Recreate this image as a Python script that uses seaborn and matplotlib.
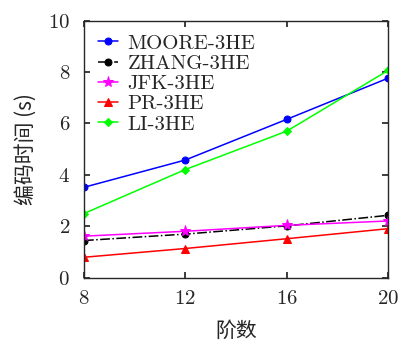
import pandas as pd
import seaborn as sns
import matplotlib.pyplot as plt

# Data
orders = [8, 12, 16, 20]
moore = [3.52, 4.58, 6.16, 7.76]
zhang = [1.45, 1.70, 2.02, 2.43]
jfk = [1.62, 1.81, 2.04, 2.21]
pr = [0.80, 1.14, 1.52, 1.91]
li = [2.50, 4.21, 5.70, 8.06]

names = ['MOORE-3HE', 'ZHANG-3HE', 'JFK-3HE', 'PR-3HE', 'LI-3HE']
series = [moore, zhang, jfk, pr, li]

df = pd.DataFrame({
    'order': orders * len(names),
    'time': sum(series, []),
    'method': [n for n in names for _ in orders],
})

sns.set_theme(style='ticks')
plt.rcParams['font.family'] = ['cmr10', 'Noto Sans CJK SC']
plt.rcParams['axes.formatter.use_mathtext'] = True

colors = ['#0000ff', '#000000', '#ff00ff', '#ff0000', '#00ff00']
markers = ['o', 'o', '*', '^', 'D']
dashes = ['-', '-.', '-', '-', '-']
msizes = [5, 5, 8, 6, 4.5]

fig, ax = plt.subplots(figsize=(4.0, 3.43), dpi=100)
fig.subplots_adjust(left=0.21, right=0.97, bottom=0.19, top=0.94)

for name, c, m, ls, ms in zip(names, colors, markers, dashes, msizes):
    sns.lineplot(data=df[df['method'] == name], x='order', y='time', ax=ax,
                 color=c, marker=m, linestyle=ls, markersize=ms,
                 markeredgecolor=c, linewidth=1.1, label=name)

ax.set_xlim(8, 20)
ax.set_ylim(0, 10)
ax.set_xticks(orders)
ax.set_yticks([0, 2, 4, 6, 8, 10])
ax.tick_params(axis='both', direction='in', top=True, right=True,
               labelsize=15, length=4)
ax.tick_params(axis='x', pad=9)
ax.tick_params(axis='y', pad=10)
ax.set_xlabel('阶数', fontsize=15, family=['Noto Sans CJK SC'], labelpad=8)
ax.set_ylabel('编码时间 (s)', fontsize=15, family=['Noto Sans CJK SC', 'cmr10'],
              labelpad=8)
for s in ax.spines.values():
    s.set_linewidth(1.0)

ax.legend(loc='upper left', frameon=False, fontsize=15, handlelength=1.0,
          labelspacing=0.08, borderaxespad=0.35, handletextpad=0.45,
          borderpad=0.3)

fig.savefig('out.png', dpi=100)
